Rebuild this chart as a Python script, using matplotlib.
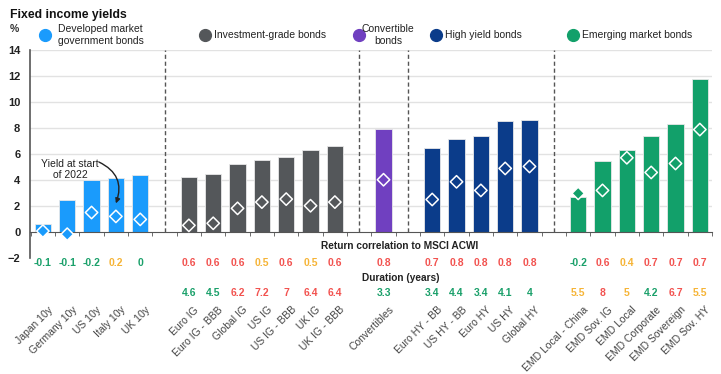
import matplotlib.pyplot as plt
from matplotlib.lines import Line2D

plt.rcParams['font.family'] = ['Liberation Sans', 'DejaVu Sans']

# groups: name, colour
groups = ["Developed market\ngovernment bonds", "Investment-grade bonds",
          "Convertible\nbonds", "High yield bonds", "Emerging market bonds"]
group_colors = ["#1a9bfc", "#54575a", "#7040c0", "#0b3c8a", "#12a06a"]

names = ["Japan 10y", "Germany 10y", "US 10y", "Italy 10y", "UK 10y",
         "Euro IG", "Euro IG - BBB", "Global IG", "US IG", "US IG - BBB", "UK IG", "UK IG - BBB",
         "Convertibles",
         "Euro HY - BB", "US HY - BB", "Euro HY", "US HY", "Global HY",
         "EMD Local - China", "EMD Sov. IG", "EMD Local", "EMD Corporate", "EMD Sovereign", "EMD Sov. HY"]
group_of = [0] * 5 + [1] * 7 + [2] + [3] * 5 + [4] * 6

yields_now = [0.6, 2.45, 4.0, 4.15, 4.4,
              4.2, 4.48, 5.25, 5.55, 5.76, 6.27, 6.65,
              7.9,
              6.45, 7.19, 7.42, 8.52, 8.62,
              2.69, 5.5, 6.32, 7.37, 8.29, 11.77]
yields_start = [0.07, -0.17, 1.5, 1.2, 0.97,
                0.51, 0.67, 1.82, 2.3, 2.53, 2.02, 2.3,
                4.02,
                2.5, 3.86, 3.2, 4.89, 5.04,
                2.97, 3.2, 5.71, 4.58, 5.27, 7.88]
correlation = [-0.1, -0.1, -0.2, 0.2, 0,
               0.6, 0.6, 0.6, 0.5, 0.6, 0.5, 0.6,
               0.8,
               0.7, 0.8, 0.8, 0.8, 0.8,
               -0.2, 0.6, 0.4, 0.7, 0.7, 0.7]
duration = [None, None, None, None, None,
            4.6, 4.5, 6.2, 7.2, 7, 6.4, 6.4,
            3.3,
            3.4, 4.4, 3.4, 4.1, 4,
            5.5, 8, 5, 4.2, 6.7, 5.5]

GREEN, ORANGE, RED = "#1aa06a", "#f6b436", "#f2524f"


def corr_color(v):
    if v <= 0:
        return GREEN
    return ORANGE if v < 0.6 else RED


def dur_color(v):
    if v < 5:
        return GREEN
    return ORANGE if v < 6 else RED


# x slots with an empty slot between groups
xs = []
pos = 0
for i, g in enumerate(group_of):
    if i > 0 and g != group_of[i - 1]:
        pos += 1
    xs.append(pos)
    pos += 1
pos_end = xs[-1]
dividers = [xs[i] - 1 for i in range(1, len(xs)) if group_of[i] != group_of[i - 1]]

fig = plt.figure(figsize=(7.21, 3.74), dpi=100)
ax = fig.add_axes([30 / 721, 116 / 374, 682 / 721, 208 / 374])
ax.set_xlim(-0.53, pos_end + 0.45)
ax.set_ylim(-2, 14)

for y in range(2, 15, 2):
    ax.axhline(y, color="#e2e2e2", lw=1, zorder=0)

colors = [group_colors[g] for g in group_of]
ax.bar(xs, yields_now, width=0.68, color=colors, edgecolor="#e8e8e8", lw=0.6, zorder=2)
ax.scatter(xs, yields_start, marker="D", s=40, c=colors, edgecolors="white", linewidths=1.1, zorder=3)

for d in dividers:
    ax.plot([d, d], [0, 14], color="#555555", lw=1, ls=(0, (3, 2)), zorder=1)

# axes styling
for s in ["top", "right"]:
    ax.spines[s].set_visible(False)
ax.spines["bottom"].set_position(("data", 0))
ax.spines["bottom"].set_color("#555555")
ax.spines["left"].set_color("#555555")
ax.spines["left"].set_linewidth(1.2)
ax.set_xticks([])
ax.set_xticks([x - 0.5 for x in range(pos_end + 2)], minor=True)
ax.tick_params(axis="x", which="minor", length=3, color="#555555", direction="out")
ax.set_yticks(range(-2, 15, 2))
ax.tick_params(axis="y", length=0, pad=7, labelsize=8, labelcolor="#222222")
for t in ax.get_yticklabels():
    t.set_fontweight("bold")

# table rows beneath
ax.text(14.67, -1.1, "Return correlation to MSCI ACWI", ha="center", va="center",
        fontsize=7.3, fontweight="bold", color="#222222")
ax.text(13.1, -3.55, "Duration (years)", ha="left", va="center",
        fontsize=7.3, fontweight="bold", color="#222222", clip_on=False)
for x, c, d, n in zip(xs, correlation, duration, names):
    ax.text(x, -2.38, f"{c:g}", ha="center", va="center", fontsize=7.5,
            fontweight="bold", color=corr_color(c), clip_on=False)
    if d is not None:
        ax.text(x, -4.7, f"{d:g}", ha="center", va="center", fontsize=7.5,
                fontweight="bold", color=dur_color(d), clip_on=False)
    ax.text(x + 0.2, -5.6, n, ha="right", va="top", rotation=45, rotation_mode="anchor",
            fontsize=7.5, color="#444444", clip_on=False)

# annotation
ax.annotate("Yield at start\nof 2022", xy=(3.0, 2.2), xytext=(1.12, 4.8),
            ha="center", va="center", fontsize=7.5, color="#222222",
            arrowprops=dict(arrowstyle="-|>", color="#222222", lw=1,
                            connectionstyle="arc3,rad=-0.45",
                            shrinkA=0, shrinkB=0, mutation_scale=7,
                            patchA=None, relpos=(1.0, 0.85)))

# title and legend
fig.text(10 / 721, 1 - 15 / 374, "Fixed income yields", fontsize=8.8, fontweight="bold",
         color="#111111", va="center")
fig.text(10 / 721, 1 - 29 / 374, "%", fontsize=7.5, fontweight="bold", color="#333333", va="center")

leg_items = [(45, 58), (205, 214), (359, 367), (436, 445), (573, 582)]
for (cx, tx), label, col in zip(leg_items, groups, group_colors):
    fig.add_artist(Line2D([cx / 721], [1 - 35 / 374], marker="o", markersize=8.5,
                          color=col, transform=fig.transFigure))
    if label.startswith("Convertible"):
        fig.text(388 / 721, 1 - 35 / 374, label, ha="center", va="center", fontsize=7.5,
                 color="#222222", linespacing=1.35)
    else:
        fig.text(tx / 721, 1 - 35 / 374, label, ha="left", va="center", fontsize=7.5,
                 color="#222222", linespacing=1.35)

fig.savefig("out.png", dpi=100)
